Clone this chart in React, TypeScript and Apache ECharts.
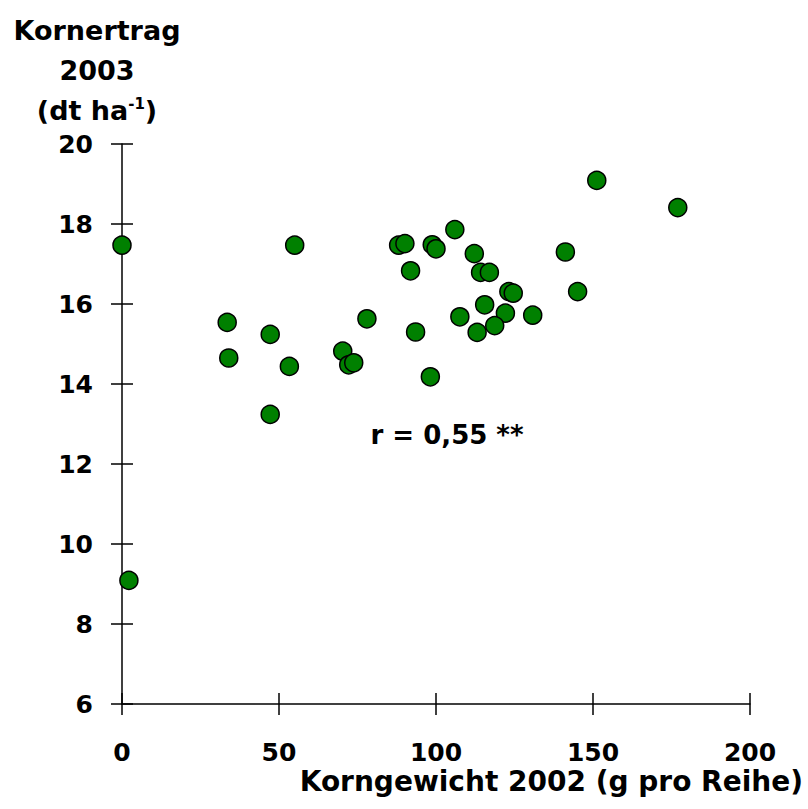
import React, { useEffect, useRef } from 'react';
import * as echarts from 'echarts';

// Data
const korngewicht2002 = [
  0, 55.0, 88.1, 90.1, 98.8, 100.0, 106.0, 91.9, 33.5, 47.2,
  34.0, 53.3, 78.0, 70.3, 72.2, 73.8, 93.5, 98.2, 47.2, 151.2,
  177.0, 112.2, 114.2, 117.0, 123.2, 124.6, 141.2, 145.1, 115.5, 107.6,
  122.1, 130.8, 118.7, 113.1, 2.2,
];
const kornertrag2003 = [
  17.47, 17.47, 17.47, 17.51, 17.48, 17.38, 17.86, 16.83, 15.54, 15.24,
  14.65, 14.44, 15.63, 14.82, 14.48, 14.53, 15.30, 14.18, 13.24, 19.09,
  18.41, 17.26, 16.79, 16.79, 16.31, 16.27, 17.30, 16.31, 15.98, 15.68,
  15.77, 15.72, 15.46, 15.29, 9.09,
];
const xTicks = [0, 50, 100, 150, 200];
const yTicks = [6, 8, 10, 12, 14, 16, 18, 20];
const xAxisTitle = 'Korngewicht 2002 (g pro Reihe)';
const yAxisTitleLines = ['Kornertrag', '2003', '(dt ha{sup|-1})'];
const correlationLabel = 'r = 0,55 **';

const FONT = '"DejaVu Sans", "Liberation Sans", Arial, sans-serif';

export default function App() {
  const ref = useRef<HTMLDivElement>(null);

  useEffect(() => {
    if (!ref.current) return;
    const chart = echarts.init(ref.current, undefined, { renderer: 'svg' });
    const xMin = xTicks[0];
    const xMax = xTicks[xTicks.length - 1];
    const xInt = xTicks[1] - xTicks[0];
    const yMin = yTicks[0];
    const yMax = yTicks[yTicks.length - 1];
    const yInt = yTicks[1] - yTicks[0];
    const labelStyle = { color: '#000', fontFamily: FONT, fontWeight: 'bold' as const, fontSize: 25 };
    const lineStyle = { color: '#000', width: 1.5 };
    const TICK = 11;

    // inner halves of the crossing tick marks, placed through the axes' scales
    const tickData = [
      ...xTicks.map((v) => [v, yMin, 0]),
      ...yTicks.map((v) => [xMin, v, 1]),
    ];

    chart.setOption({
      animation: false,
      backgroundColor: '#fff',
      grid: { left: 122, top: 144, width: 628, height: 560, containLabel: false },
      xAxis: {
        type: 'value', min: xMin, max: xMax, interval: xInt, position: 'bottom',
        axisLine: { show: true, onZero: false, lineStyle },
        axisTick: { show: true, length: TICK, lineStyle },
        axisLabel: { ...labelStyle, margin: 36 },
        splitLine: { show: false },
      },
      yAxis: {
        type: 'value', min: yMin, max: yMax, interval: yInt, position: 'left',
        axisLine: { show: true, onZero: false, lineStyle },
        axisTick: { show: true, length: TICK, lineStyle },
        axisLabel: { ...labelStyle, margin: 29 },
        splitLine: { show: false },
      },
      series: [
        {
          type: 'custom',
          silent: true,
          clip: false,
          z: 3,
          data: tickData,
          renderItem: (_params: any, api: any) => {
            const p = api.coord([api.value(0), api.value(1)]);
            const vertical = api.value(2) === 0;
            return {
              type: 'line',
              shape: vertical
                ? { x1: p[0], y1: p[1], x2: p[0], y2: p[1] - TICK }
                : { x1: p[0], y1: p[1], x2: p[0] + TICK, y2: p[1] },
              style: { stroke: '#000', lineWidth: 1.5 },
            };
          },
        },
        {
          type: 'scatter',
          symbol: 'circle',
          symbolSize: 18,
          z: 5,
          itemStyle: { color: '#008000', borderColor: '#000', borderWidth: 1.5, opacity: 1 },
          data: korngewicht2002.map((x, i) => [x, kornertrag2003[i]]),
          clip: false,
        },
      ],
      graphic: [
        ...yAxisTitleLines.map((t, i) => ({
          type: 'text',
          x: 97,
          y: 30 + i * 40,
          style: {
            text: t,
            fill: '#000',
            fontFamily: FONT,
            fontWeight: 'bold',
            fontSize: 27,
            align: 'center',
            verticalAlign: 'middle',
            textAlign: 'center',
            textVerticalAlign: 'middle',
            rich: {
              sup: {
                fontFamily: FONT,
                fontWeight: 'bold',
                fontSize: 15,
                verticalAlign: 'top',
                padding: [0, 0, 12, 0],
              },
            },
          },
        })),
        {
          type: 'text',
          x: 447,
          y: 435,
          style: {
            text: correlationLabel,
            fill: '#000',
            fontFamily: FONT,
            fontWeight: 'bold',
            fontSize: 26,
            align: 'center',
            verticalAlign: 'middle',
            textAlign: 'center',
            textVerticalAlign: 'middle',
          },
        },
        {
          type: 'text',
          x: 803,
          y: 781,
          style: {
            text: xAxisTitle,
            fill: '#000',
            fontFamily: FONT,
            fontWeight: 'bold',
            fontSize: 28,
            align: 'right',
            verticalAlign: 'middle',
            textAlign: 'right',
            textVerticalAlign: 'middle',
          },
        },
      ],
    });
    return () => chart.dispose();
  }, []);

  return (
    <div
      ref={ref}
      style={{ position: 'absolute', left: 0, top: 0, width: 808, height: 809, background: '#fff' }}
    />
  );
}
